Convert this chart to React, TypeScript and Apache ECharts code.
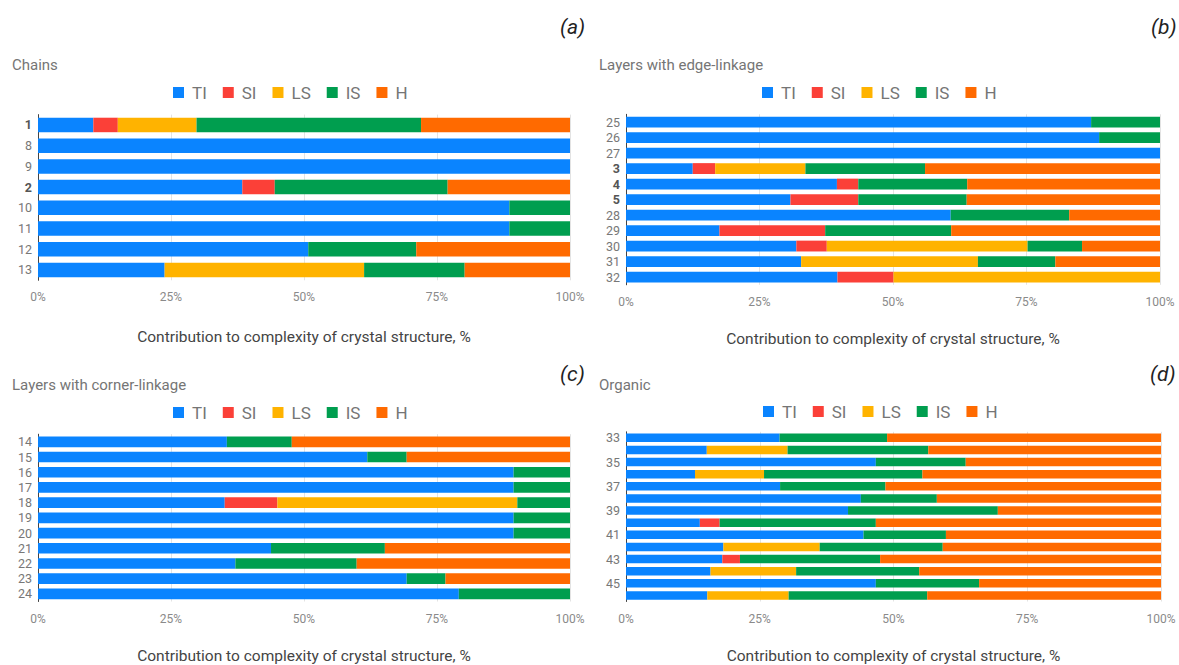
import React, { useEffect, useRef } from "react";
import * as echarts from "echarts";

const SERIES_NAMES = ["TI", "SI", "LS", "IS", "H"];
const COLORS = ["#0A84FF", "#FB4038", "#FFB300", "#009E4F", "#FF6A00"];

// (a) Chains
const catsA = ["1", "8", "9", "2", "10", "11", "12", "13"];
const boldA = ["1", "2"];
const tiA = [10.4, 100, 100, 38.4, 88.6, 88.6, 50.8, 23.8];
const siA = [4.6, 0, 0, 6.1, 0, 0, 0, 0];
const lsA = [14.8, 0, 0, 0, 0, 0, 0, 37.5];
const isA = [42.2, 0, 0, 32.5, 11.4, 11.4, 20.3, 18.9];
const hA = [28.0, 0, 0, 23.0, 0, 0, 28.9, 19.8];

// (b) Layers with edge-linkage
const catsB = ["25", "26", "27", "3", "4", "5", "28", "29", "30", "31", "32"];
const boldB = ["3", "4", "5"];
const tiB = [87.1, 88.6, 100, 12.5, 39.5, 30.8, 60.8, 17.5, 31.9, 32.8, 39.6];
const siB = [0, 0, 0, 4.2, 4.0, 12.7, 0, 19.8, 5.7, 0, 10.5];
const lsB = [0, 0, 0, 16.9, 0, 0, 0, 0, 37.6, 33.1, 49.9];
const isB = [12.9, 11.4, 0, 22.4, 20.4, 20.3, 22.2, 23.6, 10.2, 14.5, 0];
const hB = [0, 0, 0, 44.0, 36.1, 36.2, 17.0, 39.1, 14.6, 19.6, 0];

// (c) Layers with corner-linkage
const catsC = ["14", "15", "16", "17", "18", "19", "20", "21", "22", "23", "24"];
const boldC: string[] = [];
const tiC = [35.5, 61.9, 89.4, 89.4, 35.1, 89.4, 89.4, 43.8, 37.1, 69.3, 79.1];
const siC = [0, 0, 0, 0, 9.9, 0, 0, 0, 0, 0, 0];
const lsC = [0, 0, 0, 0, 45.1, 0, 0, 0, 0, 0, 0];
const isC = [12.2, 7.4, 10.6, 10.6, 9.9, 10.6, 10.6, 21.4, 22.8, 7.3, 20.9];
const hC = [52.3, 30.7, 0, 0, 0, 0, 0, 34.8, 40.1, 23.4, 0];

// (d) Organic
const catsD = ["33", "34", "35", "36", "37", "38", "39", "40", "41", "42", "43", "44", "45", "46"];
const boldD: string[] = [];
const tiD = [28.7, 15.1, 46.7, 12.9, 28.8, 43.9, 41.5, 13.8, 44.4, 18.2, 18.0, 15.8, 46.7, 15.2];
const siD = [0, 0, 0, 0, 0, 0, 0, 3.7, 0, 0, 3.3, 0, 0, 0];
const lsD = [0, 15.1, 0, 12.9, 0, 0, 0, 0, 0, 18.0, 0, 16.0, 0, 15.2];
const isD = [20.1, 26.3, 16.8, 29.6, 19.7, 14.2, 28.0, 29.2, 15.4, 23.0, 26.2, 23.0, 19.3, 25.9];
const hD = [51.2, 43.5, 36.5, 44.6, 51.5, 41.9, 30.5, 53.3, 40.2, 40.8, 52.5, 45.2, 34.0, 43.7];

const TITLES = ["Chains", "Layers with edge-linkage", "Layers with corner-linkage", "Organic"];
const TAGS = ["(a)", "(b)", "(c)", "(d)"];
const AXIS_NAME = "Contribution to complexity of crystal structure, %";

const FONT = "Roboto, 'Noto Sans', sans-serif";

export default function App() {
  const ref = useRef<HTMLDivElement>(null);
  useEffect(() => {
    if (!ref.current) return;
    const chart = echarts.init(ref.current, undefined, { renderer: "svg" });

    const panels = [
      { cats: catsA, bold: boldA, data: [tiA, siA, lsA, isA, hA], grid: { left: 38, width: 532, top: 114.6, height: 165.7 }, labelInterval: 0, nameGap: 49 },
      { cats: catsB, bold: boldB, data: [tiB, siB, lsB, isB, hB], grid: { left: 626, width: 534, top: 114.3, height: 170.5 }, labelInterval: 0, nameGap: 46.5 },
      { cats: catsC, bold: boldC, data: [tiC, siC, lsC, isC, hC], grid: { left: 38, width: 532, top: 434.2, height: 170.5 }, labelInterval: 0, nameGap: 46.5 },
      { cats: catsD, bold: boldD, data: [tiD, siD, lsD, isD, hD], grid: { left: 626, width: 535, top: 431.8, height: 172.7 }, labelInterval: 1, nameGap: 46.5 },
    ];

    const titleTops = [57, 57, 377, 377];
    const titleLefts = [12, 599, 12, 599];
    const tagLefts = [560, 1151, 560, 1150];
    const tagTops = [16, 16, 363, 363];
    const legendLefts = [173, 762, 173, 763];
    const legendTops = [84, 84, 404, 403];

    const titles: any[] = [];
    panels.forEach((_, i) => {
      titles.push({
        text: TITLES[i],
        left: titleLefts[i],
        top: titleTops[i],
        padding: 0,
        textStyle: { fontFamily: FONT, fontSize: 15, fontWeight: "normal", color: "#757575" },
      });
      titles.push({
        text: TAGS[i],
        left: tagLefts[i],
        top: tagTops[i],
        padding: 0,
        textStyle: { fontFamily: FONT, fontSize: 21, fontWeight: "normal", fontStyle: "italic", color: "#222" },
      });
    });

    const legends = panels.map((_, i) => ({
      left: legendLefts[i],
      top: legendTops[i],
      padding: 0,
      data: SERIES_NAMES,
      icon: "rect",
      itemWidth: 11,
      itemHeight: 11,
      itemGap: 16,
      textStyle: { fontFamily: FONT, fontSize: 17, color: "#757575", padding: [0, 0, 0, 3] },
    }));

    const grids = panels.map((p) => ({ ...p.grid, containLabel: false }));

    const xAxes = panels.map((p, i) => ({
      type: "value",
      gridIndex: i,
      min: 0,
      max: 100,
      interval: 25,
      axisLine: { show: false },
      axisTick: { show: false },
      axisLabel: {
        formatter: (v: number) => `${v}%`,
        fontFamily: FONT,
        fontSize: 12,
        color: "#8a8a8a",
        margin: 11,
      },
      splitLine: { show: true, lineStyle: { color: "#e3e3e3", width: 1 } },
      name: AXIS_NAME,
      nameLocation: "middle",
      nameGap: p.nameGap,
      nameTextStyle: { fontFamily: FONT, fontSize: 15.5, color: "#444" },
    }));

    const yAxes = panels.map((p, i) => ({
      type: "category",
      gridIndex: i,
      data: p.cats,
      inverse: true,
      axisLine: { show: true, lineStyle: { color: "#444", width: 1 } },
      axisTick: { show: false },
      axisLabel: {
        interval: p.labelInterval,
        fontFamily: FONT,
        fontSize: 12.5,
        color: "#777",
        margin: 6,
        formatter: (v: string) => (p.bold.includes(v) ? `{b|${v}}` : v),
        rich: { b: { fontFamily: FONT, fontSize: 12.5, fontWeight: "bold", color: "#555" } },
      },
      splitLine: { show: false },
    }));

    const series: any[] = [];
    panels.forEach((p, i) => {
      SERIES_NAMES.forEach((name, k) => {
        series.push({
          type: "bar",
          name,
          stack: "s" + i,
          xAxisIndex: i,
          yAxisIndex: i,
          data: p.data[k],
          barCategoryGap: "30%",
          itemStyle: { color: COLORS[k] },
          emphasis: { disabled: true },
        });
      });
    });

    chart.setOption({
      animation: false,
      backgroundColor: "#ffffff",
      color: COLORS,
      title: titles,
      legend: legends,
      grid: grids,
      xAxis: xAxes,
      yAxis: yAxes,
      series,
    });

    return () => chart.dispose();
  }, []);

  return (
    <div
      ref={ref}
      style={{ position: "fixed", left: 0, top: 0, width: 1179, height: 665, background: "#fff" }}
    />
  );
}
